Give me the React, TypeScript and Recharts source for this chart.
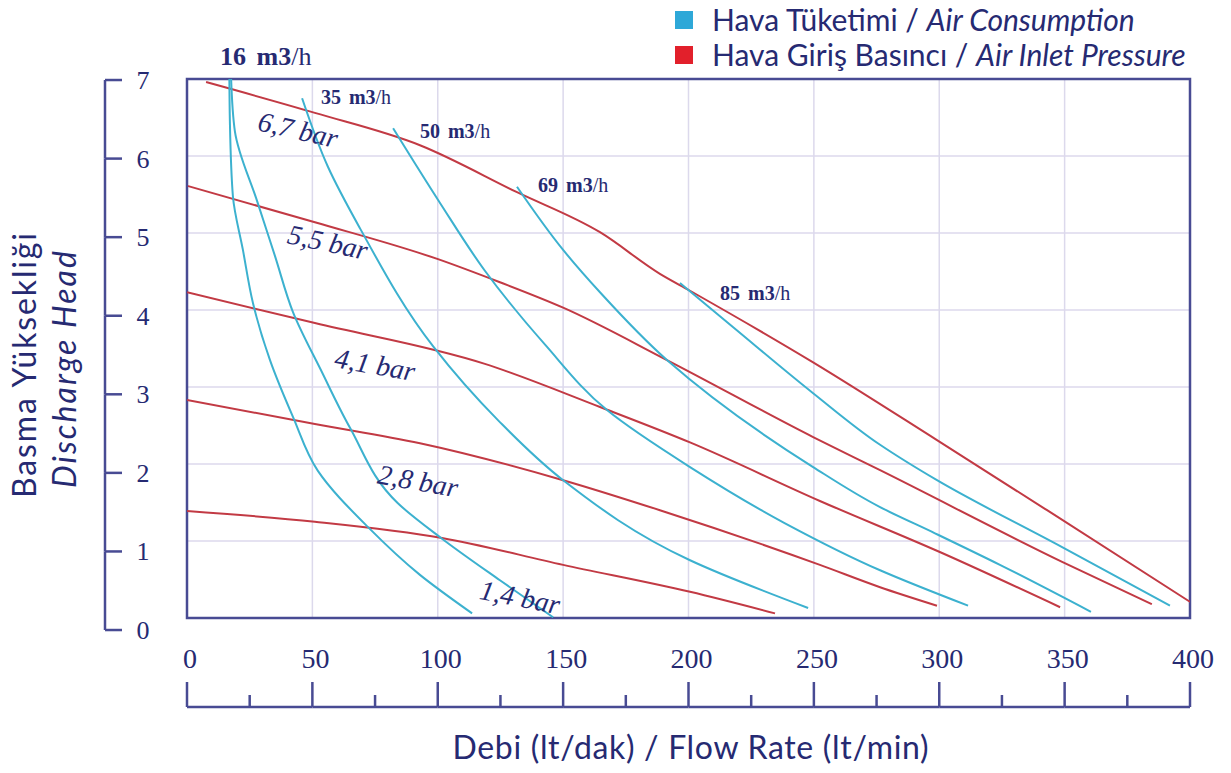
import React from 'react';
import {
  LineChart,
  Line,
  XAxis,
  YAxis,
  CartesianGrid,
  ReferenceArea,
  ReferenceDot,
  Legend,
} from 'recharts';

// Hava Giriş Basıncı / Air Inlet Pressure curves: [flow lt/min, head]
const inlet67 = [[7.6, 6.96], [51, 6.56], [92.9, 6.14], [131.6, 5.53], [164.7, 5.01], [188.6, 4.47], [200.6, 4.25], [249.7, 3.32], [299.1, 2.31], [343, 1.4], [400, 0.21]];
const inlet55 = [[0.4, 5.61], [51, 5.14], [100.1, 4.66], [124.8, 4.36], [150, 4.03], [191.4, 3.35], [249.7, 2.35], [276.4, 1.92], [349, 0.73], [384.8, 0.18]];
const inlet41 = [[0, 4.23], [51, 3.83], [118.8, 3.3], [164.7, 2.74], [200.6, 2.28], [252.4, 1.52], [300, 0.86], [348.2, 0.14]];
const inlet28 = [[0, 2.83], [51, 2.52], [92.9, 2.27], [150, 1.79], [188.6, 1.4], [252.4, 0.69], [276.4, 0.4], [299.1, 0.16]];
const inlet14 = [[0, 1.39], [51, 1.25], [101.7, 1.04], [150, 0.69], [200.6, 0.34], [234.5, 0.06]];

// Hava Tüketimi / Air Consumption curves
const air16a = [[16.9, 7.0], [17.1, 6.45], [18.3, 5.48], [22.3, 4.78], [26.3, 4.09], [33.1, 3.35], [42.3, 2.61], [52.2, 1.91], [72.2, 1.18], [92.9, 0.56], [113.7, 0.06]];
const air16b = [[17.6, 7.0], [19.1, 6.32], [27.9, 5.42], [35.1, 4.7], [42.3, 3.97], [53.4, 3.22], [65, 2.47], [84.1, 1.49], [101.7, 1.03], [124.8, 0.49], [146, 0.01]];
const air35 = [[45.9, 6.75], [56.2, 5.86], [69, 5.06], [98.1, 3.53], [124, 2.57], [150, 1.79], [200.6, 0.75], [247.7, 0.13]];
const air50 = [[82.2, 6.36], [100.9, 5.39], [118.8, 4.51], [142.8, 3.55], [167.5, 2.7], [200.6, 1.96], [238.5, 1.23], [276.4, 0.62], [311.5, 0.16]];
const air69 = [[131.6, 5.6], [150, 4.78], [164.7, 4.23], [191.4, 3.35], [249.7, 1.96], [276.4, 1.44], [298.3, 1.1], [324.2, 0.69], [360.5, 0.08]];
const air85 = [[196.6, 4.35], [217.7, 3.78], [249.7, 2.92], [276.4, 2.25], [299.1, 1.79], [349, 0.92], [392, 0.16]];

const pressureNames = ['6,7', '5,5', '4,1', '2,8', '1,4'];
const flowNames = ['16', '35', '50', '69', '85'];
const xTicks = [0, 50, 100, 150, 200, 250, 300, 350, 400];
const yTicks = [0, 1, 2, 3, 4, 5, 6, 7];

const legendItems = [
  { tr: 'Hava Tüketimi', en: 'Air Consumption', color: '#2ea8d8' },
  { tr: 'Hava Giriş Basıncı', en: 'Air Inlet Pressure', color: '#e2202b' },
];

const inletSeries = [inlet67, inlet55, inlet41, inlet28, inlet14];
const airSeries = [air16a, air16b, air35, air50, air69, air85];

const toPoints = (arr: number[][]) => arr.map(([x, y]) => ({ x, y }));

const W = 1231;
const H = 773;
const PLOT_TOP = 79;
const PLOT_W = 1003;
const PLOT_H = 539;
const BRACKET_X = 105;
const BRACKET_DOMAIN = [0.153, 7.013];

const NAVY = '#262a72';
const FRAME = '#484b93';
const GRID = '#dcd9ec';
const BLUE = '#3cb1cf';
const RED = '#c23a44';
const SERIF = '"Liberation Serif", "Times New Roman", serif';
const SANS = 'Lato, "Open Sans", sans-serif';

const XTick = (props: any) => {
  const { x, y, payload } = props;
  const v = payload.value;
  const step = (PLOT_W * 50) / 400;
  const base = y + 89;
  return (
    <g>
      <text x={x + 3} y={y + 50} textAnchor="middle" fill={NAVY} fontFamily={SERIF} fontSize={28}>
        {v}
      </text>
      <line x1={x} y1={base - 25} x2={x} y2={base} stroke={FRAME} strokeWidth={2.5} />
      {v < 400 && (
        <>
          <line x1={x} y1={base} x2={x + step} y2={base} stroke={FRAME} strokeWidth={2.5} />
          <line x1={x + step / 2} y1={base - 12} x2={x + step / 2} y2={base} stroke={FRAME} strokeWidth={2.5} />
        </>
      )}
    </g>
  );
};

const YTick = (props: any) => {
  const { y, payload } = props;
  const v = payload.value;
  const step = PLOT_H / (BRACKET_DOMAIN[1] - BRACKET_DOMAIN[0]);
  return (
    <g>
      <line x1={BRACKET_X} y1={y} x2={BRACKET_X + 17} y2={y} stroke={FRAME} strokeWidth={2.5} />
      {v > 0 && <line x1={BRACKET_X} y1={y} x2={BRACKET_X} y2={y + step} stroke={FRAME} strokeWidth={2.5} />}
      <text x={BRACKET_X + 38} y={y + 9} textAnchor="middle" fill={NAVY} fontFamily={SERIF} fontSize={26}>
        {v}
      </text>
    </g>
  );
};

const XTitle = (props: any) => {
  const vb = props.viewBox ?? { x: 187, y: 618, width: PLOT_W, height: 155 };
  return (
    <text
      x={vb.x + vb.width / 2 + 2}
      y={vb.y + 141}
      textAnchor="middle"
      fill={NAVY}
      fontFamily={SANS}
      fontSize={32}
      textLength={476}
      lengthAdjust="spacing"
    >
      Debi (lt/dak) / Flow Rate (lt/min)
    </text>
  );
};

const YTitle = () => {
  const cy = PLOT_TOP + PLOT_H / 2 + 17;
  return (
    <g fill={NAVY} fontFamily={SANS} fontSize={32}>
      <text
        transform={`translate(36, ${cy}) rotate(-90)`}
        textAnchor="middle"
        textLength={265}
        lengthAdjust="spacing"
      >
        Basma Yüksekliği
      </text>
      <text
        transform={`translate(76, ${cy + 4}) rotate(-90)`}
        textAnchor="middle"
        fontStyle="italic"
        textLength={237}
        lengthAdjust="spacing"
      >
        Discharge Head
      </text>
    </g>
  );
};

const flowTag = (name: string, size: number) => (p: any) => (
  <text x={p.cx} y={p.cy} fontFamily={SERIF} fontSize={size} fill={NAVY}>
    <tspan fontWeight="bold">{name}</tspan>
    <tspan fontWeight="bold" dx={size * 0.4}>m3</tspan>
    <tspan>/h</tspan>
  </text>
);

const barTag = (name: string, angle: number) => (p: any) => (
  <text
    x={p.cx}
    y={p.cy}
    textAnchor="middle"
    dominantBaseline="central"
    transform={`rotate(${angle} ${p.cx} ${p.cy})`}
    fontFamily={SERIF}
    fontStyle="italic"
    fontSize={28}
    fill={NAVY}
  >
    {name} bar
  </text>
);

const LegendBox = () => (
  <div style={{ fontFamily: SANS, fontSize: 30, color: NAVY, lineHeight: '35px' }}>
    {legendItems.map((it) => (
      <div key={it.tr} style={{ display: 'flex', alignItems: 'center', whiteSpace: 'nowrap' }}>
        <span style={{ width: 18, height: 18, background: it.color, marginRight: 19, display: 'inline-block' }} />
        <span>
          {it.tr} / <i>{it.en}</i>
        </span>
      </div>
    ))}
  </div>
);

export default function App() {
  return (
    <div style={{ width: W, height: H, background: '#fff' }}>
      <style>{'body{margin:0;}'}</style>
      <LineChart width={W} height={H} margin={{ top: PLOT_TOP, right: 41, bottom: 0, left: 0 }}>
        <CartesianGrid stroke={GRID} strokeWidth={1.5} />
        <XAxis
          dataKey="x"
          type="number"
          domain={[0, 400]}
          ticks={xTicks}
          interval={0}
          height={155}
          tickSize={0}
          tickMargin={0}
          axisLine={false}
          tickLine={false}
          tick={XTick}
          label={{ content: XTitle }}
          allowDataOverflow
        />
        <YAxis yAxisId={0} type="number" domain={[0, 7]} ticks={yTicks} hide allowDataOverflow />
        <YAxis
          yAxisId="bracket"
          type="number"
          domain={BRACKET_DOMAIN}
          ticks={yTicks}
          interval={0}
          width={187}
          tickSize={0}
          tickMargin={0}
          axisLine={false}
          tickLine={false}
          tick={YTick}
          label={{ content: YTitle }}
          allowDataOverflow
        />
        <ReferenceArea x1={0} x2={400} y1={0} y2={7} fill="none" fillOpacity={0} stroke={FRAME} strokeWidth={2.5} ifOverflow="visible" />
        {inletSeries.map((s, i) => (
          <Line
            key={'p' + i}
            data={toPoints(s)}
            dataKey="y"
            type="monotone"
            stroke={RED}
            strokeWidth={2}
            dot={false}
            activeDot={false}
            legendType="none"
            isAnimationActive={false}
          />
        ))}
        {airSeries.map((s, i) => (
          <Line
            key={'a' + i}
            data={toPoints(s)}
            dataKey="y"
            type="monotoneY"
            stroke={BLUE}
            strokeWidth={2}
            dot={false}
            activeDot={false}
            legendType="none"
            isAnimationActive={false}
          />
        ))}
        <ReferenceDot x={13.2} y={7.18} r={0} ifOverflow="visible" shape={flowTag(flowNames[0], 26)} />
        <ReferenceDot x={53.4} y={6.68} r={0} ifOverflow="visible" shape={flowTag(flowNames[1], 20)} />
        <ReferenceDot x={92.9} y={6.23} r={0} ifOverflow="visible" shape={flowTag(flowNames[2], 20)} />
        <ReferenceDot x={140} y={5.53} r={0} ifOverflow="visible" shape={flowTag(flowNames[3], 20)} />
        <ReferenceDot x={212.6} y={4.13} r={0} ifOverflow="visible" shape={flowTag(flowNames[4], 20)} />
        <ReferenceDot x={44.3} y={6.34} r={0} ifOverflow="visible" shape={barTag(pressureNames[0], 13)} />
        <ReferenceDot x={56.2} y={4.88} r={0} ifOverflow="visible" shape={barTag(pressureNames[1], 12)} />
        <ReferenceDot x={75} y={3.29} r={0} ifOverflow="visible" shape={barTag(pressureNames[2], 10)} />
        <ReferenceDot x={92.1} y={1.78} r={0} ifOverflow="visible" shape={barTag(pressureNames[3], 10)} />
        <ReferenceDot x={132.8} y={0.27} r={0} ifOverflow="visible" shape={barTag(pressureNames[4], 11)} />
        <Legend
          layout="vertical"
          align="center"
          verticalAlign="middle"
          wrapperStyle={{ top: 2, left: 675, width: 556 }}
          content={() => <LegendBox />}
        />
      </LineChart>
    </div>
  );
}
